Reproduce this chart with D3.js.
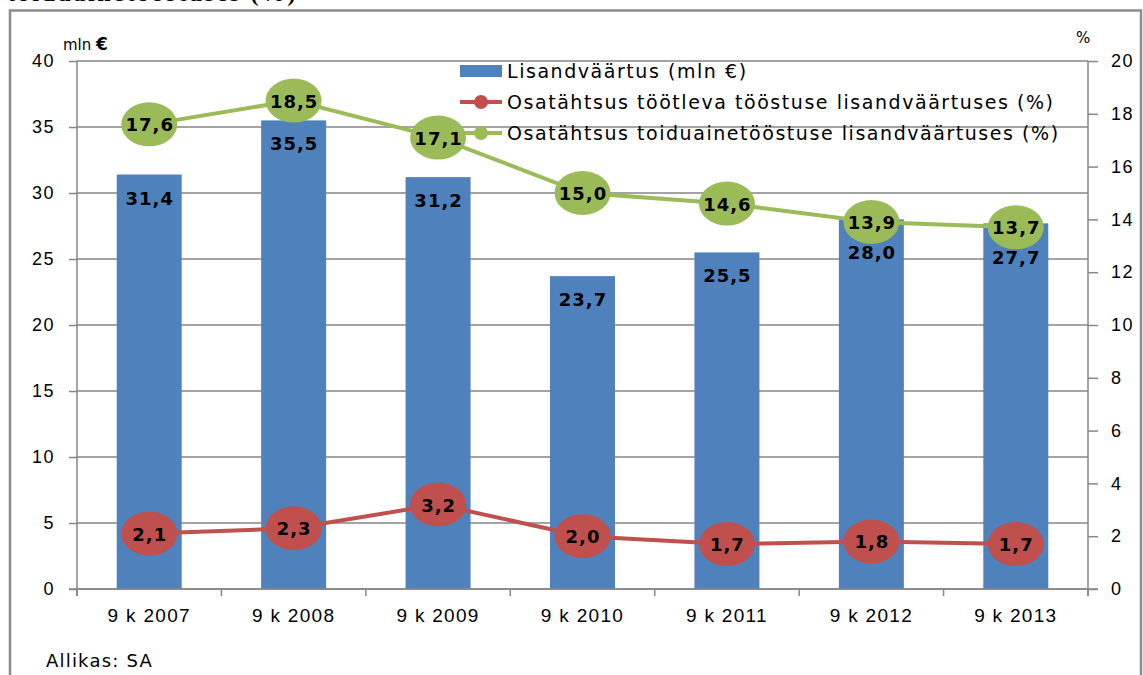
<!DOCTYPE html>
<html>
<head>
<meta charset="utf-8">
<script src="https://cdn.jsdelivr.net/npm/d3@7"></script>
<style>
  body { margin: 0; background: #fff; }
  svg { display: block; font-family: 'DejaVu Sans', Verdana, sans-serif; }
  .tick text { fill: #000; }
</style>
</head>
<body>
<div id="app"></div>
<script>
const categories = ['9 k 2007', '9 k 2008', '9 k 2009', '9 k 2010', '9 k 2011', '9 k 2012', '9 k 2013']
const lisandvaartus = [31.4, 35.5, 31.2, 23.7, 25.5, 28.0, 27.7]
const osaTootlev = [2.1, 2.3, 3.2, 2.0, 1.7, 1.8, 1.7]
const osaToiduaine = [17.6, 18.5, 17.1, 15.0, 14.6, 13.9, 13.7]
const leftTicks = [0, 5, 10, 15, 20, 25, 30, 35, 40]
const rightTicks = [0, 2, 4, 6, 8, 10, 12, 14, 16, 18, 20]
const legendLabels = [
  'Lisandväärtus (mln €)',
  'Osatähtsus töötleva tööstuse lisandväärtuses (%)',
  'Osatähtsus toiduainetööstuse lisandväärtuses (%)'
]

const W = 1143, H = 675
const m = { left: 77, right: 1088, top: 61, bottom: 589 }
const BLUE = '#4F81BD', RED = '#C0504D', GREEN = '#9BBB59', GREY = '#868686'
const RX = 28, RY = 22
const fmt = (v) => v.toFixed(1).replace('.', ',')

const svg = d3.select('#app').append('svg').attr('width', W).attr('height', H)

// pealkirja alumine osa (üleval ära lõigatud)
svg.append('text')
  .attr('x', 7).attr('y', 1)
  .attr('font-family', "'Liberation Serif', serif")
  .attr('font-weight', 'bold').attr('font-size', 24)
  .attr('letter-spacing', 2.6)
  .text('toiduainetööstuses (%)')

// raam
svg.append('path')
  .attr('d', `M10,${H} V10.5 H1141 V${H}`)
  .attr('fill', 'none').attr('stroke', '#8c8c8c').attr('stroke-width', 2.5)

const x = d3.scaleBand().domain(categories).range([m.left, m.right]).paddingInner(0.55).paddingOuter(0.275)
const xBand = d3.scaleBand().domain(categories).range([m.left, m.right])
const yL = d3.scaleLinear().domain([0, 40]).range([m.bottom, m.top])
const yR = d3.scaleLinear().domain([0, 20]).range([m.bottom, m.top])

// ruudustik
svg.append('g').selectAll('line').data(leftTicks).join('line')
  .attr('x1', m.left).attr('x2', m.right)
  .attr('y1', (d) => yL(d)).attr('y2', (d) => yL(d))
  .attr('stroke', GREY).attr('stroke-width', 1.5)

// tulbad
svg.append('g').selectAll('rect').data(lisandvaartus).join('rect')
  .attr('x', (d, i) => x(categories[i]))
  .attr('width', x.bandwidth())
  .attr('y', (d) => yL(d))
  .attr('height', (d) => yL(0) - yL(d))
  .attr('fill', BLUE)

// teljed
const axL = svg.append('g').attr('transform', `translate(${m.left},0)`)
  .call(d3.axisLeft(yL).tickValues(leftTicks).tickSize(8).tickPadding(14).tickFormat(d3.format('d')))
const axR = svg.append('g').attr('transform', `translate(${m.right},0)`)
  .call(d3.axisRight(yR).tickValues(rightTicks).tickSize(10).tickPadding(13).tickFormat(d3.format('d')))
const axB = svg.append('g').attr('transform', `translate(0,${m.bottom})`)
  .call(d3.axisBottom(xBand).tickSize(0).tickPadding(20))
// kategooriate piiride kriipsud
svg.append('g').selectAll('line').data(d3.range(categories.length + 1)).join('line')
  .attr('x1', (i) => m.left + i * xBand.step()).attr('x2', (i) => m.left + i * xBand.step())
  .attr('y1', m.bottom).attr('y2', m.bottom + 7)
  .attr('stroke', GREY).attr('stroke-width', 1.5)

for (const ax of [axL, axR, axB]) {
  ax.select('.domain').attr('stroke', GREY).attr('stroke-width', 1.5)
  ax.selectAll('.tick line').attr('stroke', GREY).attr('stroke-width', 1.5)
  ax.selectAll('.tick text').attr('font-size', 18).attr('letter-spacing', 1.5)
}
axL.select('.domain').attr('d', `M-0,${m.top}V${m.bottom + 7}`)
axR.select('.domain').attr('d', `M0,${m.top}V${m.bottom + 7}`)
axB.select('.domain').attr('d', `M${m.left - 8},0H${m.right + 10}`)
axB.selectAll('.tick text').attr('font-size', 19).attr('letter-spacing', 1.3)

// telgede ühikud
svg.append('text').attr('x', 63).attr('y', 50).attr('font-size', 15)
  .text('mln ').append('tspan').attr('font-weight', 'bold').attr('font-size', 17).text('€')
svg.append('text').attr('x', 1076).attr('y', 43).attr('font-size', 15).text('%')

// jooned
const cx = (i) => xBand(categories[i]) + xBand.bandwidth() / 2
function drawSeries(values, color) {
  const line = d3.line().x((d, i) => cx(i)).y((d) => yR(d))
  svg.append('path').datum(values).attr('d', line)
    .attr('fill', 'none').attr('stroke', color).attr('stroke-width', 4)
  const g = svg.append('g').selectAll('g').data(values).join('g')
    .attr('transform', (d, i) => `translate(${cx(i)},${yR(d)})`)
  g.append('ellipse').attr('rx', RX).attr('ry', RY).attr('fill', color)
  g.append('text').attr('text-anchor', 'middle').attr('dy', 7).attr('dx', 0.5)
    .attr('font-weight', 'bold').attr('font-size', 18).attr('letter-spacing', 1)
    .text(fmt)
}
drawSeries(osaTootlev, RED)
drawSeries(osaToiduaine, GREEN)

// tulpade sildid (kui ring katab, siis ringi alla)
svg.append('g').selectAll('text').data(lisandvaartus).join('text')
  .attr('x', (d, i) => x(categories[i]) + x.bandwidth() / 2 + 0.5)
  .attr('y', (d, i) => Math.max(yL(d) + 30, yR(osaToiduaine[i]) + RY + 15))
  .attr('text-anchor', 'middle')
  .attr('font-weight', 'bold').attr('font-size', 18).attr('letter-spacing', 1)
  .text(fmt)

// legend
const lg = svg.append('g').attr('transform', 'translate(460,0)')
const legY = [71, 102, 133]
lg.append('rect').attr('x', 0).attr('y', legY[0] - 6).attr('width', 42).attr('height', 12).attr('fill', BLUE)
;[RED, GREEN].forEach((c, i) => {
  lg.append('line').attr('x1', 0).attr('x2', 42).attr('y1', legY[i + 1]).attr('y2', legY[i + 1])
    .attr('stroke', c).attr('stroke-width', 4)
  lg.append('circle').attr('cx', 21).attr('cy', legY[i + 1]).attr('r', 7).attr('fill', c)
})
lg.selectAll('text').data(legendLabels).join('text')
  .attr('x', 47).attr('y', (d, i) => legY[i] + 7)
  .attr('font-size', 19).attr('letter-spacing', 1.55)
  .text((d) => d)

// allikas
svg.append('text').attr('x', 46).attr('y', 667).attr('font-size', 18).attr('letter-spacing', 1.2)
  .text('Allikas: SA')
</script>
</body>
</html>
